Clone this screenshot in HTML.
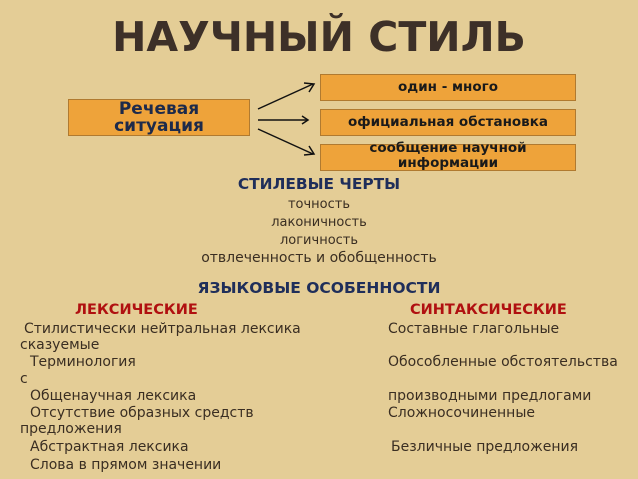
<!DOCTYPE html>
<html><head><meta charset="utf-8"><style>
body{margin:0;width:638px;height:479px;overflow:hidden;background:#e4cd96;font-family:"DejaVu Sans","Liberation Sans",sans-serif;position:relative}
.t{position:absolute;white-space:nowrap;font-size:14px;color:#3a2e22;line-height:15px}
.box{position:absolute;background:#eea33a;border:1px solid #b07a30;box-sizing:border-box;text-align:center;font-weight:bold;color:#1a1a1a;font-size:13.5px}
.c{text-align:center;width:638px;left:0}
</style></head><body>
<div class="t c" style="top:14px;font-size:41px;line-height:46px;font-weight:bold;color:#3d3028;">НАУЧНЫЙ СТИЛЬ</div>
<div class="box" style="left:68px;top:99px;width:182px;height:37px;font-size:17px;line-height:17px;color:#1d2a4a;padding-top:1px">Речевая<br>ситуация</div>
<div class="box" style="left:320px;top:74px;width:256px;height:27px;line-height:25px">один - много</div>
<div class="box" style="left:320px;top:109px;width:256px;height:27px;line-height:25px">официальная обстановка</div>
<div class="box" style="left:320px;top:144px;width:256px;height:27px;line-height:15px"><div style="margin-top:-4px">сообщение научной<br>информации</div></div>
<svg style="position:absolute;left:0;top:0" width="638" height="479">
<g stroke="#111" stroke-width="1.5" fill="none">
<line x1="258" y1="109" x2="313" y2="84"/><polyline points="304,83 314,84 309,92"/>
<line x1="258" y1="120" x2="308" y2="120"/><polyline points="302,116 308,120 302,124"/>
<line x1="258" y1="129" x2="313" y2="154"/><polyline points="309,146 314,154 304,155"/>
</g></svg>
<div class="t c" style="top:177px;font-weight:bold;color:#1f2e5a;font-size:15.4px">СТИЛЕВЫЕ ЧЕРТЫ</div>
<div class="t c" style="top:197px;font-size:13px">точность</div>
<div class="t c" style="top:215px;font-size:13px">лаконичность</div>
<div class="t c" style="top:233px;font-size:13px">логичность</div>
<div class="t c" style="top:251px;font-size:14px">отвлеченность и обобщенность</div>
<div class="t c" style="top:281px;font-weight:bold;color:#1f2e5a;font-size:15.5px">ЯЗЫКОВЫЕ ОСОБЕННОСТИ</div>
<div class="t" style="left:75px;top:303px;font-weight:bold;color:#b01010;font-size:14.5px">ЛЕКСИЧЕСКИЕ</div>
<div class="t" style="left:410px;top:303px;font-weight:bold;color:#b01010;font-size:14.5px">СИНТАКСИЧЕСКИЕ</div>
<div class="t" style="left:24px;top:322px"> Стилистически нейтральная лексика</div>
<div class="t" style="left:20px;top:338px">сказуемые</div>
<div class="t" style="left:30px;top:355px">Терминология</div>
<div class="t" style="left:20px;top:372px">с</div>
<div class="t" style="left:30px;top:389px">Общенаучная лексика</div>
<div class="t" style="left:30px;top:406px">Отсутствие образных средств</div>
<div class="t" style="left:20px;top:422px">предложения</div>
<div class="t" style="left:30px;top:440px">Абстрактная лексика</div>
<div class="t" style="left:30px;top:458px">Слова в прямом значении</div>
<div class="t" style="left:388px;top:322px">Составные глагольные</div>
<div class="t" style="left:388px;top:355px">Обособленные обстоятельства</div>
<div class="t" style="left:388px;top:389px">производными предлогами</div>
<div class="t" style="left:388px;top:406px">Сложносочиненные</div>
<div class="t" style="left:391px;top:440px">Безличные предложения</div>
</body></html>
